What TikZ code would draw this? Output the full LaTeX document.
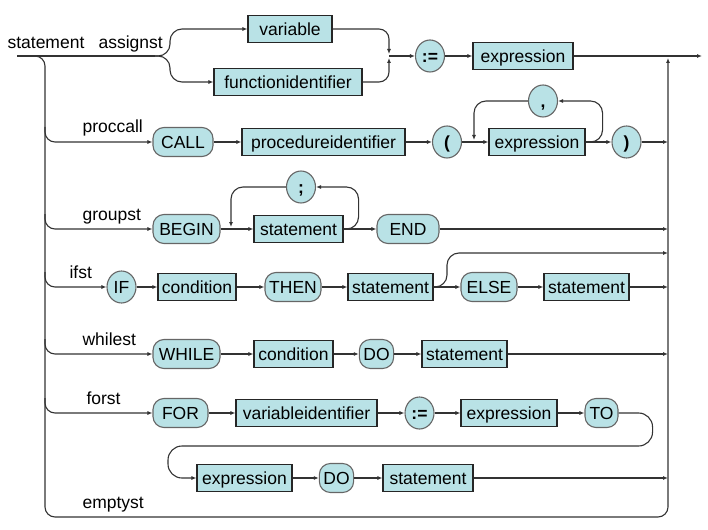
\documentclass[tikz,border=0pt]{standalone}
\usepackage{fontspec}
\setmainfont{Liberation Sans}
\usetikzlibrary{arrows.meta, shapes.geometric, calc}
\definecolor{boxfill}{HTML}{B9E2E6}
\definecolor{linegray}{HTML}{333333}

\begin{document}
\begin{tikzpicture}[x=1pt, y=-1pt, >={Latex[length=5pt,width=4pt]}, line width=1.1pt, color=linegray,
  every node/.style={text=black, font=\fontsize{17.5pt}{20pt}\selectfont},
  bx/.style={fill=boxfill, text height=12.5pt, text depth=0pt, inner xsep=4pt, inner ysep=0pt},
  nt/.style={bx, draw=black!85, minimum height=27pt},
  tm/.style={bx, draw=black!60, rounded corners=11pt, minimum height=29pt},
  op/.style={bx, ellipse, draw=black!60, minimum width=29pt, minimum height=32pt, inner sep=0pt},
  sym/.style={op, font=\fontsize{17.5pt}{20pt}\selectfont\bfseries},
  lbl/.style={anchor=base west, inner sep=0pt}]

  \useasboundingbox (0,0) rectangle (708,529);

  % Labels
  \node[lbl] (stmtL) at (7,49) {statement};
  \node[lbl] (asgL) at (98,49) {assignst};
  \node[lbl] (procL) at (82,133) {proccall};
  \node[lbl] (grpL) at (82,220) {groupst};
  \node[lbl] (ifL) at (69,278) {ifst};
  \node[lbl] (whL) at (82,345) {whilest};
  \node[lbl] (forL) at (86,404) {forst};
  \node[lbl] (empL) at (82,508) {emptyst};

  % Coordinates
  \coordinate (In) at (17,56);
  \coordinate (L) at (45,56);
  \coordinate (R) at (668,56);
  \coordinate (Out) at (702,56);
  \coordinate (BL) at (45,517);
  \coordinate (BR) at (668,517);
  \coordinate (sp) at (155,56);
  \coordinate (mg) at (389,56);
  \coordinate (mgt) at (389,54);
  \coordinate (mgb) at (389,58);
  \coordinate (j2) at (474,140);
  \coordinate (j3) at (231,227);
  \coordinate (b4) at (447,253);
  \coordinate (wr) at (168,446);

  % Nodes
  \node[nt, minimum width=84pt] (V) at (290,29) {variable};
  \node[nt, minimum width=148pt] (F) at (288,82) {functionidentifier};
  \node[sym] (AS) at (430,56) {:=};
  \node[nt, minimum width=100pt] (E1) at (523,56) {expression};

  \node[tm, minimum width=60pt] (CALL) at (183,142) {CALL};
  \node[nt, minimum width=163pt] (PI) at (323.5,142) {procedureidentifier};
  \node[sym] (LP) at (447,142) {(};
  \node[nt, minimum width=96pt] (E2) at (537,142) {expression};
  \node[sym] (RP) at (626.5,142) {)};
  \node[sym] (CM) at (543,101) {,};

  \node[tm, minimum width=67pt] (BEG) at (186.5,229) {BEGIN};
  \node[nt, minimum width=89pt] (S3) at (298.5,229) {statement};
  \node[sym] (SC) at (301,187) {;};
  \node[tm, minimum width=62pt] (END) at (408,229) {END};

  \node[op] (IF) at (121.5,287) {IF};
  \node[nt, minimum width=78pt] (C4) at (197,287) {condition};
  \node[tm, minimum width=56pt] (THEN) at (293,287) {THEN};
  \node[nt, minimum width=85pt] (S4) at (390.5,287) {statement};
  \node[tm, minimum width=56pt] (ELSE) at (489,287) {ELSE};
  \node[nt, minimum width=85pt] (S4b) at (586.5,287) {statement};

  \node[tm, minimum width=67pt] (WH) at (186.5,354) {WHILE};
  \node[nt, minimum width=79pt] (C5) at (293.5,354) {condition};
  \node[tm, minimum width=33pt] (DO5) at (376.5,354) {DO};
  \node[nt, minimum width=85pt] (S5) at (464.5,354) {statement};

  \node[tm, minimum width=55pt] (FOR) at (180.5,413) {FOR};
  \node[nt, minimum width=141pt] (VI) at (306.5,413) {variableidentifier};
  \node[sym] (AS6) at (419.5,413) {:=};
  \node[nt, minimum width=96pt] (E6) at (509,413) {expression};
  \node[tm, minimum width=33pt] (TO) at (601.5,413) {TO};

  \node[nt, minimum width=95pt] (E7) at (244.5,478) {expression};
  \node[tm, minimum width=33pt] (DO7) at (336.5,478) {DO};
  \node[nt, minimum width=90pt] (S7) at (428,478) {statement};

  % Edges
  \draw (In) -- (sp);
  \draw[->, rounded corners=10pt] (In) -- (L) -- (BL) -- (BR) -- (R |- mgb);
  \draw[->, rounded corners=12pt] (sp) -- ++(15,0) |- (V);
  \draw[->, rounded corners=12pt] (sp) -- ++(15,0) |- (F);
  \draw[->, rounded corners=10pt] (V) -| (mgt);
  \draw[->, rounded corners=10pt] (F) -| (mgb);
  \draw[->] (mg) -- (AS);
  \draw[->] (AS) -- (E1);
  \draw[->] (E1) -- (Out);

  \draw[->, rounded corners=10pt] ($(L |- CALL)+(0,-15)$) |- (CALL);
  \draw[->] (CALL) -- (PI);
  \draw[->] (PI) -- (LP);
  \draw[->] (LP) -- (E2);
  \draw[->] (E2) -- (RP);
  \draw[->] (RP) -- (RP -| R);
  \draw[->, rounded corners=12pt] (E2.east) -- ++(17,0) |- (CM);
  \draw[->, rounded corners=12pt] (CM) -| (j2);

  \draw[->, rounded corners=10pt] ($(L |- BEG)+(0,-15)$) |- (BEG);
  \draw[->] (BEG) -- (S3);
  \draw[->] (S3) -- (END);
  \draw[->] (END) -- (END -| R);
  \draw[->, rounded corners=12pt] (S3.east) -- ++(15,0) |- (SC);
  \draw[->, rounded corners=12pt] (SC) -| (j3);

  \draw[->, rounded corners=10pt] ($(L |- IF)+(0,-15)$) |- (IF);
  \draw[->] (IF) -- (C4);
  \draw[->] (C4) -- (THEN);
  \draw[->] (THEN) -- (S4);
  \draw[->] (S4) -- (ELSE);
  \draw[->] (ELSE) -- (S4b);
  \draw[->] (S4b) -- (S4b -| R);
  \draw[->, rounded corners=12pt] (S4.east) -| (b4) -- (b4 -| R);

  \draw[->, rounded corners=10pt] ($(L |- WH)+(0,-15)$) |- (WH);
  \draw[->] (WH) -- (C5);
  \draw[->] (C5) -- (DO5);
  \draw[->] (DO5) -- (S5);
  \draw[->] (S5) -- (S5 -| R);

  \draw[->, rounded corners=10pt] ($(L |- FOR)+(0,-15)$) |- (FOR);
  \draw[->] (FOR) -- (VI);
  \draw[->] (VI) -- (AS6);
  \draw[->] (AS6) -- (E6);
  \draw[->] (E6) -- (TO);
  \draw[->, rounded corners=14pt] (TO.east) -- ++(34,0) |- (wr) |- (E7);
  \draw[->] (E7) -- (DO7);
  \draw[->] (DO7) -- (S7);
  \draw[->] (S7) -- (S7 -| R);

\end{tikzpicture}
\end{document}
